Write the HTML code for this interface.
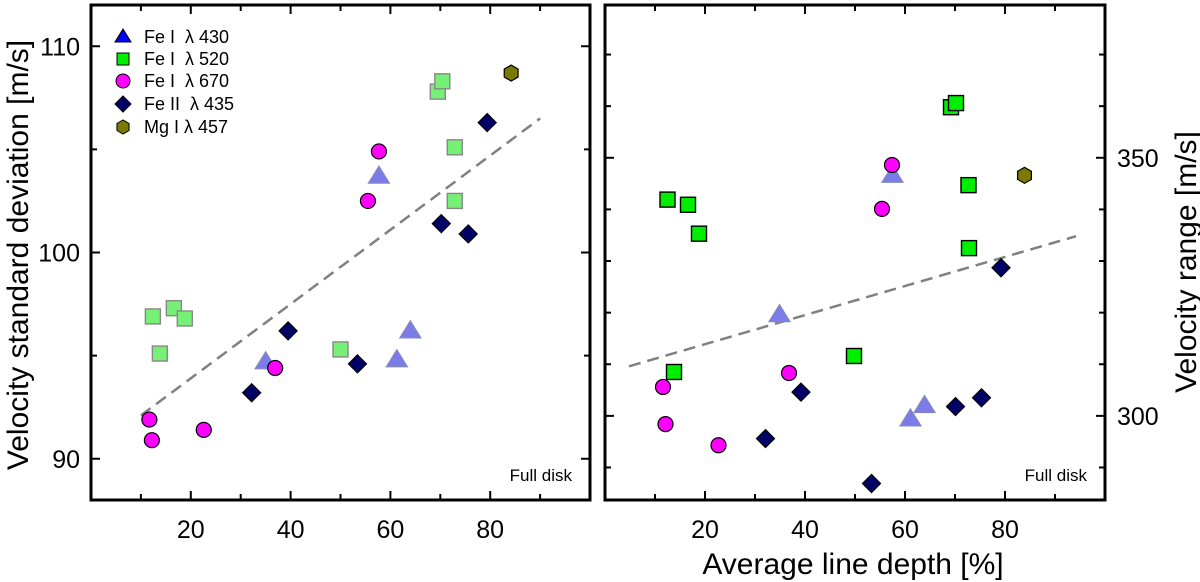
<!DOCTYPE html>
<html><head><meta charset="utf-8"><style>
html,body{margin:0;padding:0;background:#fff;}
svg{display:block;font-family:"Liberation Sans",Arial,sans-serif;}
</style></head><body>
<svg id="c" width="1200" height="582" viewBox="0 0 1200 582"></svg>
<script>
// Left panel data (x = line depth %, y = std dev m/s)
const L_fe430_x=[35,57.7,61.3,64];
const L_fe430_y=[94.7,103.7,94.8,96.2];
const L_fe520_x=[12.4,13.8,16.6,18.8,50,69.5,70.4,72.9,72.9];
const L_fe520_y=[96.9,95.1,97.3,96.8,95.3,107.8,108.3,105.1,102.5];
const L_fe670_x=[11.7,12.2,22.6,36.9,55.5,57.7];
const L_fe670_y=[91.9,90.9,91.4,94.4,102.5,104.9];
const L_fe2_x=[32.2,39.5,53.4,70.2,75.6,79.4];
const L_fe2_y=[93.2,96.2,94.6,101.4,100.9,106.3];
const L_mg_x=[84.2];
const L_mg_y=[108.7];
const L_fit_x=[10,90];
const L_fit_y=[92.1,106.5];
// Right panel data (y = velocity range m/s)
const R_fe430_x=[34.9,57.5,61.1,63.9];
const R_fe430_y=[319.6,346.6,299.4,302.0];
const R_fe520_x=[12.5,16.6,18.8,13.8,49.8,69.2,70.2,72.7,72.8];
const R_fe520_y=[341.9,340.9,335.3,308.5,311.6,359.8,360.6,344.7,332.5];
const R_fe670_x=[11.6,12.1,22.7,36.8,55.4,57.4];
const R_fe670_y=[305.6,298.4,294.3,308.3,340.1,348.6];
const R_fe2_x=[32.1,39.2,53.3,70.1,75.3,79.2];
const R_fe2_y=[295.6,304.6,286.9,301.8,303.5,328.7];
const R_mg_x=[83.9];
const R_mg_y=[346.6];
const R_fit_x=[4.8,94.2];
const R_fit_y=[309.6,334.8];
const xTicks=[20,40,60,80];
const L_yTicks=[90,100,110];
const R_yTicks=[300,350];

const NS="http://www.w3.org/2000/svg";
const svg=document.getElementById('c');
function mk(tag,attrs,parent){const e=document.createElementNS(NS,tag);for(const k in attrs)e.setAttribute(k,attrs[k]);(parent||svg).appendChild(e);return e;}

function panel(P){
  const g=mk('g',{});
  
  
  const sx=v=>P.x0+(v-P.xmin)/(P.xmax-P.xmin)*(P.x1-P.x0);
  const sy=v=>P.y1-(v-P.ymin)/(P.ymax-P.ymin)*(P.y1-P.y0);
  for(let v=10;v<=90;v+=10){
    const major=v%20===0, len=major?9:6, X=sx(v);
    const t1=mk('line',{x1:X,x2:X,y1:P.y1,y2:P.y1-len,stroke:'#000','stroke-width':2},g);
    
    const t2=mk('line',{x1:X,x2:X,y1:P.y0,y2:P.y0+len,stroke:'#000','stroke-width':2},g);
    
  }
  xTicks.forEach(v=>{const t=mk('text',{x:sx(v),y:P.y1+38,'text-anchor':'middle','font-size':25},g);t.textContent=v;
    });
  for(let v=Math.ceil(P.ymin/P.ystep)*P.ystep;v<=P.ymax;v+=P.ystep){
    const major=P.yTicks.includes(v), len=major?9:6, Y=sy(v);
    const a=mk('line',{x1:P.x0,x2:P.x0+len,y1:Y,y2:Y,stroke:'#000','stroke-width':2},g);
    
    const b=mk('line',{x1:P.x1,x2:P.x1-len,y1:Y,y2:Y,stroke:'#000','stroke-width':2},g);
    
  }
  P.yTicks.forEach(v=>{const t=mk('text',{x:P.labelRight?P.x1+12:P.x0-11,y:sy(v)+9,'text-anchor':P.labelRight?'start':'end','font-size':25},g);t.textContent=v;
    });
  const fl=mk('line',{x1:sx(P.fx[0]),y1:sy(P.fy[0]),x2:sx(P.fx[1]),y2:sy(P.fy[1]),stroke:'#808080','stroke-width':2.5,'stroke-dasharray':'12,7'},g);
  
  function tri(X,Y,s,fill,stroke,name){const e=mk('polygon',{points:`${X},${Y-s} ${X-s*1.05},${Y+s*0.7} ${X+s*1.05},${Y+s*0.7}`,fill:fill,stroke:stroke,'stroke-width':1.2},g);}
  function sq(X,Y,s,fill,stroke,name){const e=mk('rect',{x:X-s,y:Y-s,width:2*s,height:2*s,fill:fill,stroke:stroke,'stroke-width':1.4},g);}
  function circ(X,Y,s,fill,name){const e=mk('circle',{cx:X,cy:Y,r:s,fill:fill,stroke:'#000','stroke-width':1.2},g);}
  function dia(X,Y,s,name){const e=mk('polygon',{points:`${X},${Y-s} ${X+s},${Y} ${X},${Y+s} ${X-s},${Y}`,fill:'#000066',stroke:'#000','stroke-width':1.2},g);}
  function hex(X,Y,s,name){let p=[];for(let i=0;i<6;i++){const a=Math.PI/3*i+Math.PI/6;p.push((X+s*Math.cos(a))+','+(Y+s*Math.sin(a)));}
    const e=mk('polygon',{points:p.join(' '),fill:'#7a7a00',stroke:'#000','stroke-width':1.2},g);}
  P.sq_x.forEach((v,i)=>sq(sx(v),sy(P.sq_y[i]),7.5,P.sqFill,P.sqStroke,'fe520-point'));
  P.tri_x.forEach((v,i)=>tri(sx(v),sy(P.tri_y[i]),10,'#7b7bea','#8888bb','fe430-point'));
  P.ci_x.forEach((v,i)=>circ(sx(v),sy(P.ci_y[i]),7.5,'#ff00ff','fe670-point'));
  P.di_x.forEach((v,i)=>dia(sx(v),sy(P.di_y[i]),9,'fe2-435-point'));
  P.mg_x.forEach((v,i)=>hex(sx(v),sy(P.mg_y[i]),8,'mg457-point'));
  const fr=mk('rect',{x:P.x0,y:P.y0,width:P.x1-P.x0,height:P.y1-P.y0,fill:'none',stroke:'#000','stroke-width':3},g);
  
  const fd=mk('text',{x:P.x1-18,y:P.y1-19,'text-anchor':'end','font-size':17},g);fd.textContent='Full disk';
  
}

panel({name:'left-panel',x0:91,x1:590,y0:5,y1:500,xmin:0,xmax:100,ymin:88,ymax:112,ystep:5,yTicks:L_yTicks,labelRight:false,
 fx:L_fit_x,fy:L_fit_y,tri_x:L_fe430_x,tri_y:L_fe430_y,sq_x:L_fe520_x,sq_y:L_fe520_y,sqFill:'#77f077',sqStroke:'#888',
 ci_x:L_fe670_x,ci_y:L_fe670_y,di_x:L_fe2_x,di_y:L_fe2_y,mg_x:L_mg_x,mg_y:L_mg_y});
panel({name:'right-panel',x0:605,x1:1105,y0:5,y1:500,xmin:0,xmax:100,ymin:283.7,ymax:379.6,ystep:10,yTicks:R_yTicks,labelRight:true,
 fx:R_fit_x,fy:R_fit_y,tri_x:R_fe430_x,tri_y:R_fe430_y,sq_x:R_fe520_x,sq_y:R_fe520_y,sqFill:'#00ee00',sqStroke:'#000',
 ci_x:R_fe670_x,ci_y:R_fe670_y,di_x:R_fe2_x,di_y:R_fe2_y,mg_x:R_mg_x,mg_y:R_mg_y});

const lg=mk('g',{});


const items=['Fe I\u00a0 λ 430','Fe I\u00a0 λ 520','Fe I\u00a0 λ 670','Fe II\u00a0 λ 435','Mg I λ 457'];
const ly=[37,59,81,104,127];
items.forEach((t,i)=>{
  const X=123,Y=ly[i];
  if(i===0){const e=mk('polygon',{points:`${X},${Y-8} ${X-8},${Y+5} ${X+8},${Y+5}`,fill:'#0000ff',stroke:'#000','stroke-width':1},lg);}
  if(i===1){const e=mk('rect',{x:X-6,y:Y-6,width:12,height:12,fill:'#00ee00',stroke:'#000','stroke-width':1},lg);}
  if(i===2){const e=mk('circle',{cx:X,cy:Y,r:7,fill:'#ff00ff',stroke:'#000','stroke-width':1},lg);}
  if(i===3){const e=mk('polygon',{points:`${X},${Y-8} ${X+8},${Y} ${X},${Y+8} ${X-8},${Y}`,fill:'#000066',stroke:'#000','stroke-width':1},lg);}
  if(i===4){let p=[];for(let k=0;k<6;k++){const a=Math.PI/3*k+Math.PI/6;p.push((X+7*Math.cos(a))+','+(Y+7*Math.sin(a)));}
    const e=mk('polygon',{points:p.join(' '),fill:'#7a7a00',stroke:'#000','stroke-width':1},lg);}
  const tx=mk('text',{x:144,y:Y+6,'font-size':18},lg);tx.textContent=t;
  
  
});

const yl=mk('text',{x:0,y:0,'font-size':30,'text-anchor':'middle',transform:'translate(28,255) rotate(-90)'});
yl.textContent='Velocity standard deviation [m/s]';


const yr=mk('text',{x:0,y:0,'font-size':30,'text-anchor':'middle',transform:'translate(1196,262) rotate(-90)'});
yr.textContent='Velocity range [m/s]';


const xl=mk('text',{x:853,y:574,'font-size':30,'text-anchor':'middle'});
xl.textContent='Average line depth [%]';


</script>
</body></html>
